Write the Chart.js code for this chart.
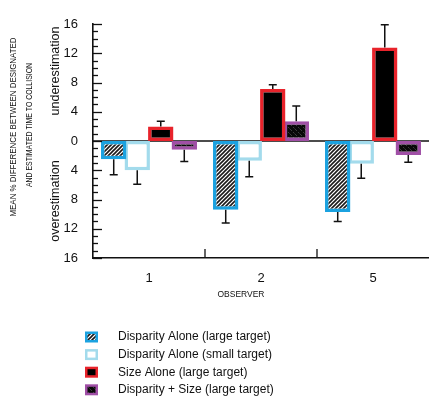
<!DOCTYPE html>
<html><head><meta charset="utf-8">
<script src="https://cdn.jsdelivr.net/npm/chart.js@4.4.1/dist/chart.umd.min.js"></script>
<style>html,body{margin:0;padding:0;background:#fff;overflow:hidden}#wrap{width:429px;height:398px;position:relative}</style>
</head><body><div id="wrap"><canvas id="c"></canvas></div>
<script>
// ---- data ----
const observers = ['1', '2', '5'];
const seriesNames = [
  'Disparity Alone (large target)',
  'Disparity Alone (small target)',
  'Size Alone (large target)',
  'Disparity + Size (large target)'
];
const dispLarge = [-2.5, -9.4, -9.7];
const dispLargeErr = [2.1, 1.8, 1.3];
const dispSmall = [-4.0, -2.7, -3.1];
const dispSmallErr = [1.9, 2.2, 2.0];
const sizeAlone = [2.0, 7.1, 12.8];
const sizeAloneErr = [0.7, 0.6, 3.1];
const dispSize = [-1.2, 2.7, -1.9];
const dispSizeErr = [1.6, 2.1, 1.0];
const yMin = -16, yMax = 16, yStep = 4;

const FONT = '"Liberation Sans", Arial, Helvetica, sans-serif';
const INK = '#111';

const canvas = document.getElementById('c');
const ctx0 = canvas.getContext('2d');
function tile(size, draw) { const c = document.createElement('canvas'); c.width = c.height = size; draw(c.getContext('2d')); return c; }
const hatch = ctx0.createPattern(tile(4, g => {
  g.fillStyle = '#fff'; g.fillRect(0, 0, 4, 4);
  g.strokeStyle = '#1a1a1a'; g.lineWidth = 1.6; g.beginPath();
  g.moveTo(-1, 5); g.lineTo(5, -1); g.moveTo(-1, 1); g.lineTo(1, -1); g.moveTo(3, 5); g.lineTo(5, 3); g.stroke();
}), 'repeat');
const speckle = ctx0.createPattern(tile(5, g => {
  g.fillStyle = '#080808'; g.fillRect(0, 0, 5, 5);
  g.fillStyle = '#3c3c3c'; g.fillRect(1, 0, 1, 1); g.fillRect(3, 2, 1, 1); g.fillRect(0, 4, 1, 1);
  g.fillStyle = '#262626'; g.fillRect(4, 3, 1, 1);
}), 'repeat');

const errs = [dispLargeErr, dispSmallErr, sizeAloneErr, dispSizeErr];

const decor = {
  id: 'decor',
  beforeDatasetsDraw(chart) {
    const { ctx, chartArea: a, scales: { y } } = chart;
    const y0 = y.getPixelForValue(0);
    ctx.save(); ctx.strokeStyle = INK; ctx.lineWidth = 1.6;
    ctx.beginPath(); ctx.moveTo(a.left, y0); ctx.lineTo(a.right, y0); ctx.stroke();
    ctx.restore();
  },
  afterDatasetsDraw(chart) {
    const { ctx, scales: { y } } = chart;
    ctx.save(); ctx.strokeStyle = INK; ctx.lineWidth = 1.5;
    chart.data.datasets.forEach((ds, i) => {
      const meta = chart.getDatasetMeta(i);
      meta.data.forEach((bar, j) => {
        const v = ds.data[j]; const e = errs[i][j];
        const end = y.getPixelForValue(v + Math.sign(v) * e);
        ctx.beginPath(); ctx.moveTo(bar.x, bar.y); ctx.lineTo(bar.x, end);
        ctx.moveTo(bar.x - 4, end); ctx.lineTo(bar.x + 4, end); ctx.stroke();
      });
    });
    ctx.restore();
  },
  afterDraw(chart) {
    const { ctx, chartArea: a, scales: { x, y } } = chart;
    ctx.save();
    ctx.strokeStyle = INK; ctx.lineWidth = 1.3;
    // y ticks pointing inward
    for (let v = yMin; v <= yMax; v++) {
      const py = Math.round(y.getPixelForValue(v)) + 0.5;
      const len = v % 4 === 0 ? 9 : 5;
      ctx.beginPath(); ctx.moveTo(a.left, py); ctx.lineTo(a.left + len, py); ctx.stroke();
    }
    // x ticks at category boundaries pointing up
    for (let i = 0; i < observers.length - 1; i++) {
      const px = (x.getPixelForValue(i) + x.getPixelForValue(i + 1)) / 2;
      ctx.beginPath(); ctx.moveTo(px, a.bottom); ctx.lineTo(px, a.bottom - 9); ctx.stroke();
    }
    ctx.fillStyle = INK; ctx.textAlign = 'center'; ctx.textBaseline = 'middle';
    function rot(text, cx, cy, font, maxW) {
      ctx.save(); ctx.translate(cx, cy); ctx.rotate(-Math.PI / 2); ctx.font = font;
      if (maxW) ctx.fillText(text, 0, 0, maxW); else ctx.fillText(text, 0, 0);
      ctx.restore();
    }
    rot('underestimation', 56, 71, '12.5px ' + FONT);
    rot('overestimation', 56, 201, '12.5px ' + FONT);
    rot('MEAN % DIFFERENCE BETWEEN DESIGNATED', 13.5, 127, '9px ' + FONT, 179);
    rot('AND ESTIMATED TIME TO COLLISION', 30, 125, '9px ' + FONT, 124);
    ctx.font = '9px ' + FONT; ctx.fillText('OBSERVER', 241, 295, 47);
    // legend
    chart.data.datasets.forEach((d, i) => {
      const cy = 337 + i * 17.6;
      const bx = 85, bw = 13, bh = 11;
      ctx.fillStyle = d.borderColor; ctx.fillRect(bx, cy - bh / 2, bw, bh);
      ctx.fillStyle = d.backgroundColor; ctx.fillRect(bx + 2.5, cy - bh / 2 + 2.5, bw - 5, bh - 5);
      ctx.fillStyle = INK; ctx.textAlign = 'left'; ctx.font = '12px ' + FONT;
      ctx.fillText(d.label, 118, cy);
    });
    ctx.restore();
  }
};

const common = { borderWidth: 3.5, borderSkipped: false, categoryPercentage: 0.84, barPercentage: 1.08 };
new Chart(canvas, {
  type: 'bar',
  data: {
    labels: observers,
    datasets: [
      Object.assign({ label: seriesNames[0], data: dispLarge, backgroundColor: hatch, borderColor: '#1ba2e0' }, common),
      Object.assign({ label: seriesNames[1], data: dispSmall, backgroundColor: '#ffffff', borderColor: '#a3dbec' }, common),
      Object.assign({ label: seriesNames[2], data: sizeAlone, backgroundColor: '#000000', borderColor: '#e8232b' }, common),
      Object.assign({ label: seriesNames[3], data: dispSize, backgroundColor: speckle, borderColor: '#a04fa6' }, common)
    ]
  },
  options: {
    responsive: true, maintainAspectRatio: false, animation: false, devicePixelRatio: 1,
    layout: { padding: { top: 24, right: 0, left: 0, bottom: 0 } },
    plugins: { legend: { display: false }, tooltip: { enabled: false } },
    scales: {
      x: {
        offset: true,
        grid: { display: false, drawTicks: false },
        border: { display: true, color: INK, width: 1.6 },
        ticks: { color: INK, font: { size: 13, family: FONT }, padding: 13 },
        afterFit(s) { s.height = 140; }
      },
      y: {
        min: yMin, max: yMax,
        grid: { display: false, drawTicks: false },
        border: { display: true, color: INK, width: 1.6 },
        ticks: { stepSize: yStep, color: INK, font: { size: 13, family: FONT }, padding: 15, callback: v => String(Math.abs(v)) },
        afterFit(s) { s.width = 93; }
      }
    }
  },
  plugins: [decor]
});
</script></body></html>
